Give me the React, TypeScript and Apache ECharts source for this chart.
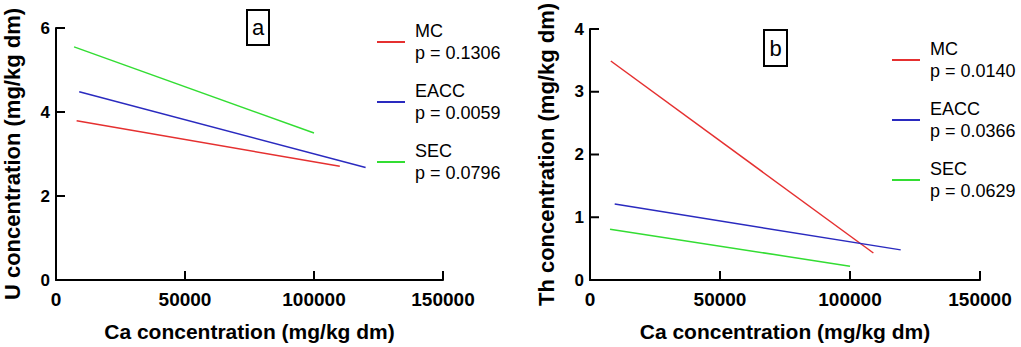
import React, { useEffect, useRef } from "react";
import * as echarts from "echarts";

const xTicks = [0, 50000, 100000, 150000];
const yTicksA = [0, 2, 4, 6];
const yTicksB = [0, 1, 2, 3, 4];
const panelLabels = ["a", "b"];
const yTitles = ["U concentration (mg/kg dm)", "Th concentration (mg/kg dm)"];
const xTitle = "Ca concentration (mg/kg dm)";
const groups = ["MC", "EACC", "SEC"];
const pA = ["0.1306", "0.0059", "0.0796"];
const pB = ["0.0140", "0.0366", "0.0629"];
const colors = ["#e53030", "#2a2abf", "#33dd33"];

// panel a: U vs Ca, [Ca, U] endpoints of the fitted lines
const aMC = [[8000, 3.79], [110000, 2.71]];
const aEACC = [[9000, 4.48], [120000, 2.68]];
const aSEC = [[7000, 5.55], [100000, 3.5]];
// panel b: Th vs Ca
const bMC = [[8000, 3.49], [109000, 0.43]];
const bEACC = [[9500, 1.21], [119500, 0.48]];
const bSEC = [[7700, 0.81], [100000, 0.22]];

const FONT = "'Liberation Sans', Arial, sans-serif";

export default function App() {
  const ref = useRef<HTMLDivElement>(null);
  useEffect(() => {
    const chart = echarts.init(ref.current!, null, { renderer: "svg" });
    const gridA = { left: 53, top: 28, width: 390, height: 260 };
    const gridB = { left: 590, top: 29, width: 390, height: 260 };
    const xAxis = (gi: number) => ({
      type: "value",
      gridIndex: gi,
      min: 0,
      max: 150000,
      interval: 50000,
      name: xTitle,
      nameLocation: "middle",
      nameGap: 41,
      nameTextStyle: { fontFamily: FONT, fontWeight: "bold", fontSize: 21, color: "#000" },
      axisLine: { show: true, onZero: false, lineStyle: { color: "#000", width: 2 } },
      axisTick: { show: false },
      axisLabel: {
        show: true,
        fontFamily: FONT,
        fontWeight: "bold",
        fontSize: 19,
        color: "#000",
        margin: 10,
        formatter: (v: number) => (xTicks.includes(v) ? String(v) : ""),
      },
      splitLine: { show: false },
    });
    const yAxis = (gi: number, max: number, interval: number, title: string) => ({
      type: "value",
      gridIndex: gi,
      min: 0,
      max,
      interval,
      name: title,
      nameLocation: "middle",
      nameGap: 33,
      nameTextStyle: { fontFamily: FONT, fontWeight: "bold", fontSize: 22, color: "#000" },
      axisLine: { show: true, onZero: false, lineStyle: { color: "#000", width: 2 } },
      axisTick: { show: false },
      axisLabel: { show: true, fontFamily: FONT, fontWeight: "bold", fontSize: 17, color: "#000", margin: 6 },
      splitLine: { show: false },
    });
    const dataA = [aMC, aEACC, aSEC];
    const dataB = [bMC, bEACC, bSEC];
    const names = (ps: string[]) => groups.map((g, i) => `${g}\np = ${ps[i]}`);
    const namesA = names(pA);
    const namesB = names(pB);
    const mk = (nm: string[], data: number[][][], gi: number) =>
      nm.map((n, i) => ({
        type: "line",
        name: n,
        xAxisIndex: gi,
        yAxisIndex: gi,
        data: data[i],
        symbol: "none",
        color: colors[i],
        lineStyle: { width: 1.5, color: colors[i] },
      }));
    const legend = (nm: string[], left: number, top: number) => ({
      data: nm,
      orient: "vertical",
      left,
      top,
      itemWidth: 28,
      itemHeight: 2,
      itemGap: 16,
      icon: "rect",
      selectedMode: false,
      textStyle: { fontFamily: FONT, fontSize: 18, color: "#000", lineHeight: 22, padding: [0, 0, 0, 5] },
    });
    const box = (label: string, x: number, y: number, w: number, h: number) => ({
      type: "group",
      children: [
        { type: "rect", shape: { x, y, width: w, height: h }, style: { fill: "#fff", stroke: "#000", lineWidth: 2 } },
        {
          type: "text",
          x: x + w / 2,
          y: y + h / 2,
          style: { text: label, fontFamily: FONT, fontSize: 22, fill: "#000", align: "center", verticalAlign: "middle" },
        },
      ],
    });
    const boxes = [box(panelLabels[0], 247, 10, 22, 35), box(panelLabels[1], 764, 30, 23, 36)];
    chart.setOption({
      animation: false,
      backgroundColor: "#fff",
      grid: [gridA, gridB],
      xAxis: [xAxis(0), xAxis(1)],
      yAxis: [yAxis(0, 6, 2, yTitles[0]), yAxis(1, 4, 1, yTitles[1])],
      legend: [legend(namesA, 372, 15), legend(namesB, 887, 33)],
      series: [...mk(namesA, dataA, 0), ...mk(namesB, dataB, 1)],
      graphic: boxes,
    });
    // inward tick marks, positioned through the axes' own scales
    const tickLines: any[] = [];
    const addTicks = (gi: number, yTicks: number[]) => {
      xTicks.forEach((v) => {
        const p = chart.convertToPixel({ gridIndex: gi } as any, [v, 0]) as number[];
        if (p) tickLines.push({ type: "line", z: 100, shape: { x1: p[0], y1: p[1], x2: p[0], y2: p[1] - 9 }, style: { stroke: "#000", lineWidth: 2 } });
      });
      yTicks.forEach((v) => {
        const p = chart.convertToPixel({ gridIndex: gi } as any, [0, v]) as number[];
        if (p) tickLines.push({ type: "line", z: 100, shape: { x1: p[0], y1: p[1], x2: p[0] + 9, y2: p[1] }, style: { stroke: "#000", lineWidth: 2 } });
      });
    };
    addTicks(0, yTicksA);
    addTicks(1, yTicksB);
    chart.setOption({ graphic: [...boxes, ...tickLines] });
    return () => chart.dispose();
  }, []);
  return <div ref={ref} style={{ position: "fixed", left: 0, top: 0, width: 1021, height: 347 }} />;
}
